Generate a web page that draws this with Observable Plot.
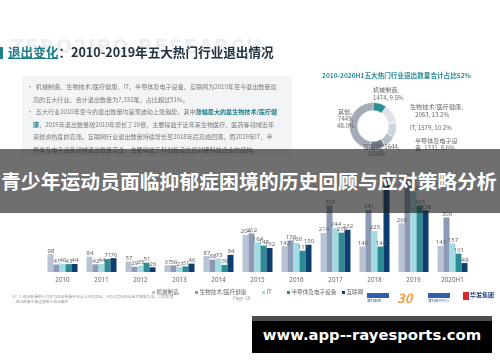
<!DOCTYPE html>
<html><head><meta charset="utf-8">
<script src="https://cdn.jsdelivr.net/npm/d3@7"></script>
<script src="https://cdn.jsdelivr.net/npm/@observablehq/plot@0.6"></script>
<style>
html,body{margin:0;padding:0;background:#fff;}
#root{position:relative;width:500px;height:362px;overflow:hidden;font-family:"Noto Sans CJK SC","Noto Sans",sans-serif;background:#fff;}
#slide{position:absolute;left:0;top:0;width:500px;height:362px;filter:blur(0.35px);}
.abs{position:absolute;white-space:nowrap;}
.line{position:absolute;white-space:nowrap;font-size:6.1px;color:#7a7a7a;line-height:1;}
.leg{position:absolute;white-space:nowrap;font-size:5.6px;color:#666;line-height:1;top:290px;}
.leg i{display:inline-block;width:3px;height:3px;margin-right:1.5px;vertical-align:middle;}
#chart{position:absolute;left:0;top:100px;}
#chart svg{overflow:visible;}
#banner{position:absolute;left:0;top:149px;width:500px;height:64px;background:rgba(30,30,30,0.64);z-index:5;}
#banner span{position:absolute;left:1px;top:22px;font-size:20px;font-weight:700;color:#fff;white-space:nowrap;line-height:1;font-family:"Noto Sans CJK SC",sans-serif;}
#url{position:absolute;left:252px;top:316px;width:240px;height:37px;background:#000;border-top:5px solid #4d4d4d;box-sizing:border-box;z-index:6;}
#url span{position:absolute;left:0;width:240px;text-align:center;top:7px;color:#fff;font-family:"DejaVu Sans",sans-serif;font-weight:700;font-size:14.8px;line-height:1;}
</style></head>
<body><div id="root">
<div id="slide">
  <div class="abs" style="left:10px;top:35px;font-family:'DejaVu Sans';font-weight:700;font-size:19px;color:#eceef1;letter-spacing:1.5px;">ZERO2IPO RESEARCH</div>
  <div class="abs" style="left:0;top:47px;width:2.5px;height:12px;background:#1f7f8c;"></div>
  <div class="abs" style="left:8px;top:45.5px;font-size:12.6px;font-weight:700;color:#233240;line-height:1;"><span style="color:#1f7f8c;text-decoration:underline;">退出变化</span>：2010-2019年五大热门行业退出情况</div>
  <div class="abs" style="left:22px;top:76px;width:270px;height:80px;background:#f3f4f5;"></div>
  <div class="line" style="left:27px;top:84px;">•&nbsp;&nbsp;机械制造、生物技术/医疗健康、IT、半导体及电子设备、互联网为2010年至今退出数量最</div>
  <div class="line" style="left:33px;top:96.5px;">高的五大行业，合计退出数量为7,331笔，占比超过51%。</div>
  <div class="line" style="left:27px;top:109px;">•&nbsp;&nbsp;五大行业2010年至今的退出数量均呈现波动上涨趋势，其中<b style="color:#1f7f8c;">涨幅最大的是生物技术/医疗健</b></div>
  <div class="line" style="left:33px;top:121.5px;"><b style="color:#1f7f8c;">康</b>，2019年退出数量较2010年增长了10倍，主要得益于近年来生物医疗、医药等领域近年</div>
  <div class="line" style="left:33px;top:134px;">来较资热度的高涨。互联网行业退出数量持续增长至2018年后高峰回落，而2019年IT、半</div>
  <div class="line" style="left:33px;top:146.5px;">导体及电子设备领域退出数量高企，主要得益于科创板设立后对硬科技企业的结构。</div>
  <div class="abs" style="left:322px;top:72px;font-size:6.6px;font-weight:700;color:#2b8d96;line-height:1;">2010-2020H1五大热门行业退出数量合计占比52%</div>
  <div id="donut" class="abs" style="left:0;top:0;"></div>
  <div class="line" style="left:373px;top:87px;color:#666;">机械制造,</div>
  <div class="line" style="left:373px;top:95px;color:#666;">1474, 9.5%</div>
  <div class="line" style="left:410px;top:104px;color:#666;">生物技术/医疗健康,</div>
  <div class="line" style="left:415px;top:112px;color:#666;">2053, 13.2%</div>
  <div class="line" style="left:410px;top:125px;color:#666;">IT, 1579, 10.2%</div>
  <div class="line" style="left:415px;top:138px;color:#666;">半导体及电子设</div>
  <div class="line" style="left:415px;top:145px;color:#666;">备, 1331, 8.6%</div>
  <div class="line" style="left:338px;top:109px;color:#666;">其他,</div>
  <div class="line" style="left:338px;top:116px;color:#666;">7449,</div>
  <div class="line" style="left:337px;top:123px;color:#666;">48.0%</div>
  <div class="line" style="left:363px;top:144px;color:#666;">互联网, 1644,</div>
  <div class="line" style="left:368px;top:151px;color:#666;">10.6%</div>
  <div id="chart"></div>
  <div id="legend"></div>
  <div class="abs" style="left:12px;top:295px;font-size:3.8px;color:#999;line-height:1.3;">注：1.退出数量统计口径为退出数量不包含上市后退出，IPO以实际退出首次披露为准，以后年度<br>&nbsp;&nbsp;&nbsp;&nbsp;退出数量不再重复统计退出事件</div>
  <div class="abs" style="left:233px;top:296px;font-size:4.5px;color:#999;line-height:1;">Page&nbsp;&nbsp;60</div>
  <div class="abs" style="left:367px;top:293px;width:22px;height:5px;background:#2f5fa8;"></div>
  <div class="abs" style="left:367px;top:299px;font-size:3.5px;color:#2f5fa8;line-height:1;">清科集团</div>
  <div class="abs" style="left:397px;top:291px;font-size:13px;font-weight:700;color:#f0a040;line-height:1;font-style:italic;">30</div>
  <div class="abs" style="left:428px;top:293px;width:22px;height:5px;background:#2f5fa8;"></div>
  <div class="abs" style="left:428px;top:299px;font-size:3.5px;color:#2f5fa8;line-height:1;">清科研究中心</div>
  <div class="abs" style="left:463px;top:292px;width:6px;height:8px;background:#d6282e;"></div>
  <div class="abs" style="left:470px;top:292px;font-size:6px;font-weight:700;color:#1b3f7a;line-height:1;">华发集团</div>
</div>
<div id="banner"><span id="bannerText">青少年运动员面临抑郁症困境的历史回顾与应对策略分析</span></div>
<div id="url"><span>www.app--rayesports.com</span></div>
</div>
<script>
// ---- data ----
const years = ["2010","2011","2012","2013","2014","2015","2016","2017","2018","2019","2020H1"];
const seriesNames = ["机械制造","生物技术/医疗健康","IT","半导体及电子设备","互联网"];
const seriesColors = ["#b9c3d6","#8d9ab6","#a3dbe5","#2b8c96","#0e3d70"];
const jixie      = [98, 84, 57, 37, 87, 204, 142, 214, 140, 268, 143];
const shengwu    = [41, 42, 29, 36, 68, 212, 173, 365, 341, 510, 300];
const itVals     = [46, 44, 35, 27, 73, 164, 160, 244, 225, 440, 157];
const bandaoti   = [43, 71, 51, 31, 39, 145, 117, 216, 140, 365, 101];
const hulianwang = [44, 76, 26, 46, 94, 132, 150, 232, 500, 338, 49];
const donutNames  = ["机械制造","生物技术/医疗健康","IT","半导体及电子设备","互联网","其他"];
const donutValues = [1474, 2053, 1579, 1331, 1644, 7449];
const donutColors = ["#2b8d96","#dfe3e9","#cfd5de","#b7bec9","#6f7889","#a5abb5"];

const allSeries = [jixie, shengwu, itVals, bandaoti, hulianwang];
const rows = [];
years.forEach((y, i) => seriesNames.forEach((s, j) => rows.push({year: y, series: s, value: allSeries[j][i]})));

const chart = Plot.plot({
  width: 500, height: 200,
  marginLeft: 42.5, marginRight: 28.5, marginTop: 0, marginBottom: 28,
  style: {background: "transparent", fontFamily: "Noto Sans, sans-serif"},
  fx: {domain: years, paddingInner: 0.22, paddingOuter: 0.11, label: null, axis: "bottom", tickSize: 0, tickPadding: 5},
  x: {domain: seriesNames, padding: 0, axis: null},
  y: {domain: [0, 945], axis: null},
  color: {domain: seriesNames, range: seriesColors},
  marks: [
    Plot.barY(rows, {fx: "year", x: "series", y: "value", fill: "series", inset: 0}),
    Plot.text(rows, {fx: "year", x: "series", y: "value", text: d => String(d.value), dy: -4, fontSize: 6, fill: "#5a5a5a"})
  ]
});
chart.style.fontSize = "6.3px";
chart.querySelectorAll("text").forEach(t => { if (!t.getAttribute("fill")) t.setAttribute("fill", "#666"); });
document.getElementById("chart").appendChild(chart);

// legend
const legX = [152, 195, 262, 287, 342];
const legend = document.getElementById("legend");
seriesNames.forEach((s, i) => {
  const d = document.createElement("div");
  d.className = "leg";
  d.style.left = legX[i] + "px";
  d.innerHTML = `<i style="background:${seriesColors[i]}"></i>${s}`;
  legend.appendChild(d);
});

// donut
const pie = d3.pie().sort(null).value(d => d)(donutValues);
const arc = d3.arc().innerRadius(15.5).outerRadius(23.5);
const svg = d3.create("svg").attr("width", 500).attr("height", 200).style("position", "absolute").style("left", "0").style("top", "0");
const g = svg.append("g").attr("transform", "translate(373,126)");
g.selectAll("path").data(pie).join("path").attr("d", arc).attr("fill", (d, i) => donutColors[i]).attr("stroke", "#fff").attr("stroke-width", 0.5);
document.getElementById("donut").appendChild(svg.node());

// fit banner text to the width seen in the reference
const bt = document.getElementById("bannerText");
const w = bt.getBoundingClientRect().width;
if (w > 0) {
  const fs = 20 * 496 / w;
  bt.style.fontSize = fs + "px";
  bt.style.top = (32 - fs * 0.5) + "px";
}
</script>
</body></html>
